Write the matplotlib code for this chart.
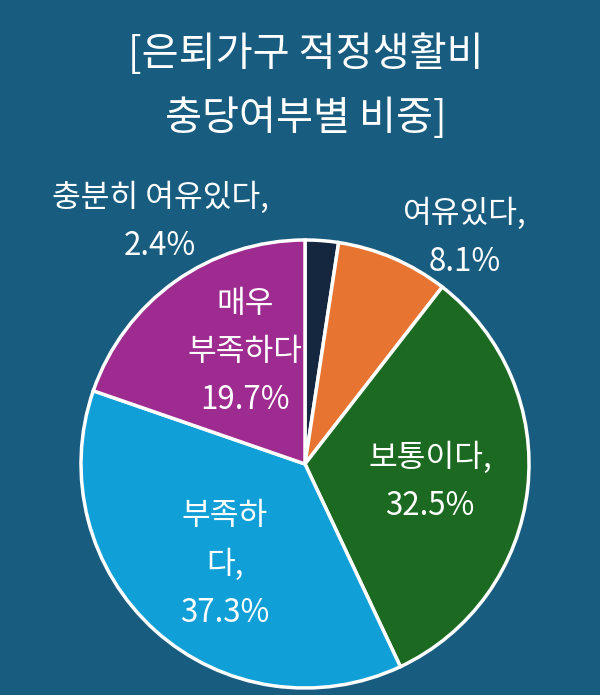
import matplotlib.pyplot as plt

plt.rcParams['font.family'] = ['Noto Sans CJK KR', 'DejaVu Sans']

# Data
categories = ['충분히 여유있다', '여유있다', '보통이다', '부족하다', '매우 부족하다']
shares = [2.4, 8.1, 32.5, 37.3, 19.7]
label_texts = ['충분히 여유있다,\n2.4%', '여유있다,\n8.1%', '보통이다,\n32.5%',
               '부족하\n다,\n37.3%', '매우\n부족하다\n19.7%']
colors = ['#14273f', '#e87431', '#1c6922', '#119fd7', '#9e2b8f']
bg = '#185d80'

fig = plt.figure(figsize=(6, 6.95), dpi=100, facecolor=bg)
ax = fig.add_axes([81 / 600, 7 / 695, 448 / 600, 448 / 695])
ax.set_facecolor(bg)

ax.pie(shares, colors=colors, startangle=90, counterclock=False, radius=1,
       wedgeprops=dict(edgecolor='white', linewidth=2.5))
ax.set_xlim(-1, 1)
ax.set_ylim(-1, 1)
ax.set_aspect('equal')
ax.axis('off')

# label positions relative to pie centre (radius units)
label_pos = [(-0.647, 1.08), (0.714, 1.01), (0.558, -0.08), (-0.357, -0.45), (-0.268, 0.5)]
for txt, (x, y) in zip(label_texts, label_pos):
    ax.text(x, y, txt, ha='center', va='center', color='white', fontsize=22.5,
            linespacing=1.65)

fig.text(0.51, 1 - 86 / 695, '[은퇴가구 적정생활비\n충당여부별 비중]', ha='center',
         va='center', color='white', fontsize=29, linespacing=1.68)

fig.savefig('out.png', dpi=100, facecolor=bg)
